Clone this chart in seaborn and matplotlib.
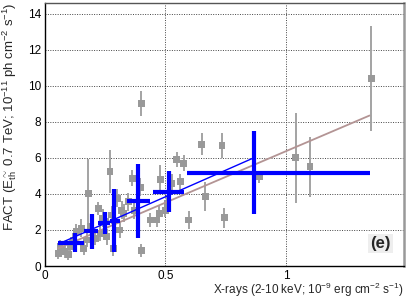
import numpy as np
import pandas as pd
import matplotlib
matplotlib.use('Agg')
import matplotlib.pyplot as plt
import seaborn as sns
from matplotlib.ticker import MultipleLocator

# individual nights (grey squares)
night_x = [0.055, 0.062, 0.070, 0.083, 0.097, 0.105, 0.118, 0.130, 0.150, 0.160,
           0.173, 0.180, 0.190, 0.208, 0.222, 0.229, 0.240, 0.250, 0.256, 0.270,
           0.277, 0.284, 0.300, 0.310, 0.319, 0.326, 0.346, 0.363, 0.370, 0.395,
           0.400, 0.400, 0.437, 0.464, 0.475, 0.478, 0.500, 0.506, 0.527, 0.547,
           0.561, 0.575, 0.596, 0.650, 0.665, 0.735, 0.744, 0.890, 1.040, 1.100,
           1.355]
night_y = [0.70, 1.07, 0.90, 0.80, 0.65, 1.10, 1.44, 1.90, 2.10, 0.98,
           1.44, 4.04, 2.20, 1.54, 3.20, 1.80, 2.65, 2.46, 1.63, 5.24,
           2.83, 0.98, 3.76, 2.00, 3.10, 2.93, 3.57, 4.87, 3.10, 4.37,
           0.85, 9.00, 2.55, 2.55, 2.93, 4.78, 3.10, 3.48, 4.60, 5.90,
           4.68, 5.70, 2.55, 6.76, 3.85, 6.70, 2.67, 4.95, 6.00, 5.50,
           10.40]
night_err = [0.30, 0.35, 0.30, 0.35, 0.30, 0.35, 0.40, 0.45, 0.50, 0.35,
             0.40, 1.90, 0.40, 0.40, 0.35, 0.40, 0.50, 0.45, 0.45, 1.20,
             0.50, 0.40, 0.50, 0.45, 0.50, 0.50, 0.50, 0.45, 0.50, 0.50,
             0.35, 0.70, 0.40, 0.40, 0.45, 0.80, 0.40, 0.45, 0.50, 0.40,
             0.45, 0.45, 0.50, 0.60, 0.80, 0.70, 0.55, 0.35, 2.50, 1.65,
             2.90]

# binned averages (blue crosses)
bin_x = [0.125, 0.194, 0.247, 0.287, 0.384, 0.513, 0.866]
bin_lo = [0.055, 0.162, 0.221, 0.270, 0.342, 0.450, 0.590]
bin_hi = [0.162, 0.221, 0.270, 0.310, 0.434, 0.575, 1.350]
bin_y = [1.30, 1.92, 2.40, 2.50, 3.60, 4.13, 5.18]
bin_err = [0.52, 0.95, 0.60, 1.75, 2.05, 1.12, 2.30]

# linear fits
fit_bin_x = [0.055, 0.866]
fit_bin_y = [1.22, 6.00]
fit_all_x = [0.055, 1.347]
fit_all_y = [0.98, 8.35]

GREY = '#999999'
BLUE = '#0000ff'
BROWN = '#b39494'

sns.set_style('white')
plt.rcParams['font.family'] = ['Liberation Sans', 'DejaVu Sans']
plt.rcParams['mathtext.fontset'] = 'custom'
plt.rcParams['mathtext.rm'] = 'Liberation Sans'
plt.rcParams['mathtext.it'] = 'Liberation Sans'

df = pd.DataFrame({'x': night_x, 'y': night_y, 'err': night_err})

fig = plt.figure(figsize=(4.07, 3.0), dpi=100)
ax = fig.add_axes([0.1106, 0.1133, 0.882, 0.877])

ax.errorbar(df['x'], df['y'], yerr=df['err'], fmt='none', ecolor='#a3a3a3',
            elinewidth=1.4, capsize=0, zorder=2)
sns.scatterplot(data=df, x='x', y='y', marker='s', s=24, color=GREY,
                edgecolor='none', linewidth=0, ax=ax, zorder=3)

sns.lineplot(x=fit_all_x, y=fit_all_y, color=BROWN, lw=1.3, ax=ax, zorder=4)
sns.lineplot(x=fit_bin_x, y=fit_bin_y, color=BLUE, lw=1.0, ax=ax, zorder=4)

bx = np.array(bin_x)
xerr = [bx - np.array(bin_lo), np.array(bin_hi) - bx]
ax.errorbar(bin_x, bin_y, xerr=xerr, yerr=bin_err, fmt='none', ecolor=BLUE,
            elinewidth=3.0, capsize=0, zorder=5)

ax.set_xlim(0, 1.49)
ax.set_ylim(0, 14.6)
ax.yaxis.set_major_locator(MultipleLocator(2))
ax.yaxis.set_minor_locator(MultipleLocator(0.5))
ax.set_xticks([0, 0.5, 1])
ax.set_xticklabels(['0', '0.5', '1'])
ax.tick_params(axis='both', which='both', direction='in', labelsize=8.5,
               colors='black')
ax.tick_params(axis='both', which='major', length=6, width=0.8, pad=3)
ax.tick_params(axis='y', which='minor', length=3, width=0.8)

ax.grid(True, which='major', linestyle=(0, (1, 1.5)), color='#444444', lw=0.7)
ax.set_axisbelow(True)

for side in ['left', 'bottom']:
    ax.spines[side].set_color('black')
    ax.spines[side].set_linewidth(1.0)
ax.spines['top'].set_color('#555555')
ax.spines['top'].set_linewidth(1.0)
ax.spines['right'].set_color('#999999')
ax.spines['right'].set_linewidth(1.8)

ax.set_xlabel('X-rays (2-10 keV; 10$^{-9}$ erg cm$^{-2}$ s$^{-1}$)',
              fontsize=8.5, loc='right')
ax.set_ylabel('FACT (E$_{th}^{\\sim}$ 0.7 TeV; 10$^{-11}$ ph cm$^{-2}$ s$^{-1}$)',
              fontsize=9.5, loc='top')
ax.xaxis.set_label_coords(1.0, -0.058)
ax.yaxis.set_label_coords(-0.072, 1.0)

ax.text(0.935, 0.085, '(e)', transform=ax.transAxes, ha='center', va='center',
        fontsize=12, fontweight='bold',
        bbox=dict(facecolor='#eeeeee', edgecolor='none', pad=1.5))

fig.savefig('out.png', dpi=100)
